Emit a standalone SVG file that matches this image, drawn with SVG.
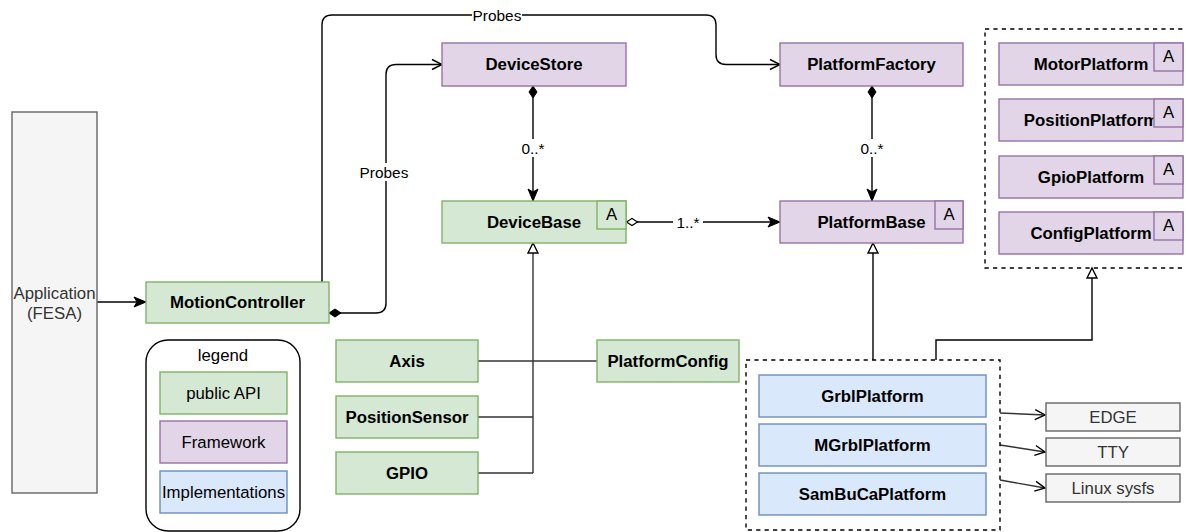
<svg xmlns="http://www.w3.org/2000/svg" width="1186" height="532" viewBox="0 0 1186 532">
<style>
text{font-family:"Liberation Sans",Arial,sans-serif;dominant-baseline:central;text-anchor:middle}
.b{font-weight:bold;font-size:16.8px;fill:#000}
.r{font-size:16.8px;fill:#000}
.g{font-size:16.8px;fill:#333}
.e{font-size:15.4px;fill:#000}
.a{font-size:16.8px;fill:#000}
.green{fill:#d5e8d4;stroke:#82b366;stroke-width:1.4}
.purple{fill:#e1d5e7;stroke:#9673a6;stroke-width:1.4}
.blue{fill:#dae8fc;stroke:#6c8ebf;stroke-width:1.4}
.gray{fill:#f5f5f5;stroke:#666;stroke-width:1.4}
.dash{fill:none;stroke:#000;stroke-width:1.4;stroke-dasharray:4.2 4.2}
.c{fill:none;stroke:#000;stroke-width:1.4}
.c2{fill:none;stroke:#333;stroke-width:1.4}
.lbl{fill:#fff}
</style>
<defs>
<marker id="open" markerUnits="userSpaceOnUse" markerWidth="14" markerHeight="12" refX="11" refY="5" orient="auto" overflow="visible">
<path d="M1,0 L11,5 L1,10" fill="none" stroke="#000" stroke-width="1.4"/>
</marker>
<marker id="classic" markerUnits="userSpaceOnUse" markerWidth="14" markerHeight="12" refX="12" refY="5" orient="auto" overflow="visible">
<path d="M0,0 L12,5 L0,10 L3,5 z" fill="#000" stroke="#000" stroke-width="1"/>
</marker>
<marker id="tri" markerUnits="userSpaceOnUse" markerWidth="12" markerHeight="12" refX="10" refY="5" orient="auto" overflow="visible">
<path d="M0,0 L10,5 L0,10 z" fill="#fff" stroke="#000" stroke-width="1.4"/>
</marker>
<marker id="dia" markerUnits="userSpaceOnUse" markerWidth="14" markerHeight="10" refX="0" refY="4" orient="auto" overflow="visible">
<path d="M0,4 L6,0 L12,4 L6,8 z" fill="#000" stroke="#000" stroke-width="1"/>
</marker>
<marker id="hdia" markerUnits="userSpaceOnUse" markerWidth="14" markerHeight="10" refX="0" refY="4" orient="auto" overflow="visible">
<path d="M0.5,4 L6,0.5 L11.5,4 L6,7.5 z" fill="#fff" stroke="#000" stroke-width="1.2"/>
</marker>
</defs>

<g id="connectors">
<path class="c" d="M97,302 H146" marker-end="url(#classic)"/>
<path class="c" d="M322,282 V25 Q322,15 332,15 H706 Q716,15 716,25 V54.5 Q716,64.5 726,64.5 H780" marker-end="url(#open)"/>
<rect class="lbl" x="472" y="6" width="50" height="18"/>
<text class="e" x="497" y="15">Probes</text>
<path class="c" d="M329,313 H376 Q386,313 386,303 V74.5 Q386,64.5 396,64.5 H442" marker-start="url(#dia)" marker-end="url(#open)"/>
<rect class="lbl" x="358" y="163" width="52" height="18"/>
<text class="e" x="384" y="172">Probes</text>
<path class="c" d="M533,86 V201" marker-start="url(#dia)" marker-end="url(#classic)"/>
<rect class="lbl" x="518" y="139" width="30" height="18"/>
<text class="e" x="533" y="148">0..*</text>
<path class="c" d="M872,86 V201" marker-start="url(#dia)" marker-end="url(#classic)"/>
<rect class="lbl" x="857" y="139" width="30" height="18"/>
<text class="e" x="872" y="148">0..*</text>
<path class="c" d="M626,222 H780" marker-start="url(#hdia)" marker-end="url(#classic)"/>
<rect class="lbl" x="673" y="213" width="30" height="18"/>
<text class="e" x="688" y="222">1..*</text>
<path class="c2" d="M533,473 V243" marker-end="url(#tri)"/>
<path class="c2" d="M478,417 H533 M478,473 H533"/>
<path class="c2" d="M478,361 H597"/>
<path class="c" d="M873,360 V243" marker-end="url(#tri)"/>
<path class="c" d="M936,360 V340 H1092 V268" marker-end="url(#tri)"/>
<path class="c2" d="M1000,413 L1045,415" marker-end="url(#open)"/>
<path class="c2" d="M1000,445 L1045,452" marker-end="url(#open)"/>
<path class="c2" d="M1000,480 L1045,488" marker-end="url(#open)"/>
</g>

<g id="application">
<rect class="gray" x="12" y="112" width="85" height="381"/>
<text class="g" x="54.5" y="293">Application</text>
<text class="g" x="54.5" y="313">(FESA)</text>
</g>
<g id="motioncontroller">
<rect class="green" x="146" y="282" width="183" height="41"/>
<text class="b" x="237.5" y="302.5">MotionController</text>
</g>
<g id="devicestore">
<rect class="purple" x="442" y="43" width="184" height="43"/>
<text class="b" x="534" y="64.5">DeviceStore</text>
</g>
<g id="platformfactory">
<rect class="purple" x="780" y="43" width="183" height="43"/>
<text class="b" x="871.5" y="64.5">PlatformFactory</text>
</g>
<g id="devicebase">
<rect class="green" x="442" y="201" width="184" height="42"/>
<text class="b" x="534" y="222">DeviceBase</text>
<rect class="green" x="597" y="201" width="29" height="28"/>
<text class="a" x="611.5" y="214">A</text>
</g>
<g id="platformbase">
<rect class="purple" x="780" y="201" width="183" height="42"/>
<text class="b" x="871.5" y="222">PlatformBase</text>
<rect class="purple" x="935" y="201" width="28" height="28"/>
<text class="a" x="949" y="214">A</text>
</g>

<g id="abstract-platforms">
<rect class="dash" x="985" y="29" width="210" height="239"/>
<g id="motorplatform">
<rect class="purple" x="999" y="43" width="184" height="42"/>
<text class="b" x="1091" y="64">MotorPlatform</text>
<rect class="purple" x="1154" y="43" width="29" height="28"/>
<text class="a" x="1168.5" y="56">A</text>
</g>
<g id="positionplatform">
<rect class="purple" x="999" y="99" width="184" height="42"/>
<text class="b" x="1091" y="120">PositionPlatform</text>
<rect class="purple" x="1154" y="99" width="29" height="28"/>
<text class="a" x="1168.5" y="112">A</text>
</g>
<g id="gpioplatform">
<rect class="purple" x="999" y="156" width="184" height="42"/>
<text class="b" x="1091" y="177">GpioPlatform</text>
<rect class="purple" x="1154" y="156" width="29" height="28"/>
<text class="a" x="1168.5" y="169">A</text>
</g>
<g id="configplatform">
<rect class="purple" x="999" y="212" width="184" height="42"/>
<text class="b" x="1091" y="233">ConfigPlatform</text>
<rect class="purple" x="1154" y="212" width="29" height="28"/>
<text class="a" x="1168.5" y="225">A</text>
</g>
</g>

<g id="axis">
<rect class="green" x="336" y="340" width="142" height="42"/>
<text class="b" x="407" y="361">Axis</text>
</g>
<g id="positionsensor">
<rect class="green" x="336" y="396" width="142" height="42"/>
<text class="b" x="407" y="417">PositionSensor</text>
</g>
<g id="gpio">
<rect class="green" x="336" y="452" width="142" height="42"/>
<text class="b" x="407" y="473">GPIO</text>
</g>
<g id="platformconfig">
<rect class="green" x="597" y="340" width="142" height="42"/>
<text class="b" x="668" y="361">PlatformConfig</text>
</g>

<g id="implementations">
<rect class="dash" x="746" y="360" width="254" height="170"/>
<g id="grblplatform">
<rect class="blue" x="759" y="375" width="227" height="42"/>
<text class="b" x="872.5" y="396">GrblPlatform</text>
</g>
<g id="mgrblplatform">
<rect class="blue" x="759" y="424" width="227" height="42"/>
<text class="b" x="872.5" y="445">MGrblPlatform</text>
</g>
<g id="sambucaplatform">
<rect class="blue" x="759" y="473" width="227" height="42"/>
<text class="b" x="872.5" y="494">SamBuCaPlatform</text>
</g>
</g>

<g id="edge">
<rect class="gray" x="1046" y="403" width="134" height="28"/>
<text class="g" x="1113" y="417">EDGE</text>
</g>
<g id="tty">
<rect class="gray" x="1046" y="438" width="134" height="28"/>
<text class="g" x="1113" y="452">TTY</text>
</g>
<g id="linuxsysfs">
<rect class="gray" x="1046" y="474" width="134" height="28"/>
<text class="g" x="1113" y="488">Linux sysfs</text>
</g>

<g id="legend">
<rect x="146" y="340" width="154" height="191" rx="22" ry="22" fill="#fff" stroke="#000" stroke-width="1.4"/>
<text class="r" x="223" y="355">legend</text>
<rect class="green" x="160" y="372" width="127" height="42"/>
<text class="r" x="223.5" y="393">public API</text>
<rect class="purple" x="160" y="421" width="127" height="42"/>
<text class="r" x="223.5" y="442">Framework</text>
<rect class="blue" x="160" y="471" width="127" height="42"/>
<text class="r" x="223.5" y="492">Implementations</text>
</g>
</svg>
